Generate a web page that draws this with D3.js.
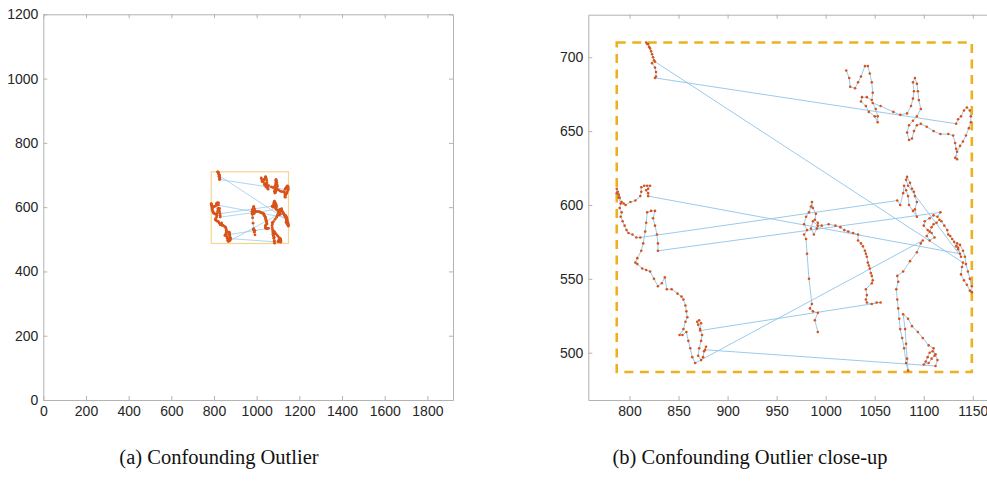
<!DOCTYPE html>
<html>
<head>
<meta charset="utf-8">
<script src="https://cdn.jsdelivr.net/npm/d3@7"></script>
<style>
  body { margin: 0; background: #fff; }
  .tick text { font-family: "Liberation Sans", Arial, sans-serif; font-size: 14px; fill: #262626; }
  .tick line { stroke: #b3b3b3; }
  .domain { stroke: #b3b3b3; }
  .caption { font-family: "Liberation Serif", "Times New Roman", serif; font-size: 20.5px; fill: #111; }
</style>
</head>
<body>
<script>
// tick labels
const xTicksA = [0, 200, 400, 600, 800, 1000, 1200, 1400, 1600, 1800];
const yTicksA = [0, 200, 400, 600, 800, 1000, 1200];
const xTicksB = [800, 850, 900, 950, 1000, 1050, 1100, 1150];
const yTicksB = [500, 550, 600, 650, 700];

// zoom window (data units)
const zoomBoxX = [787, 1149];
const zoomBoxY = [487, 710];

// trajectory pieces, in the order they were recorded
const trackF = [[992,514],[989,522],[992,527],[987,528],[984,530],[986,533],[983,550],[981,567],[980,577],[978,580],
  [981,583],[978,587],[980,592],[983,595],[985,599],[986,602],[987,598],[990,594],[989,590],[992,588],[991,584],
  [988,580],[985,584],[987,589],[992,586],[996,586],[1003,587],[1010,586],[1015,585],[1019,583],[1023,582],
  [1028,581],[1033,580],[1033,576],[1036,574],[1038,572],[1040,569],[1041,567],[1042,565],[1043,561],[1044,559],
  [1045,557],[1046,554],[1047,552],[1048,549],[1047,547],[1041,543],[1042,539],[1041,536],[1042,534],[1047,533],
  [1052,534],[1056,534]];
const trackBL1 = [[872,515],[870,519],[869,521],[871,522],[873,520],[872,516],[874,512],[873,508],[871,503],
  [870,498],[873,495],[875,497],[876,501],[878,504],[877,502]];
const trackBR = [[1112,491],[1114,495],[1112,499],[1109,501],[1106,500],[1104,497],[1102,494],[1100,492],
  [1105,493],[1108,496],[1111,498],[1110,503],[1105,505],[1099,510],[1094,514],[1088,518],[1084,523],[1079,526],
  [1081,516],[1082,506],[1083,496],[1084,488],[1082,493],[1080,503],[1078,510],[1076,516],[1075,523],[1074,530],
  [1073,536],[1072,543],[1074,548],[1073,552],[1079,555],[1086,562],[1093,568],[1097,574],[1099,576]];
const trackBL2 = [[867,493],[864,497],[862,503],[860,508],[858,514],[854,512],[851,512],[855,516],[857,521],
  [859,524],[858,528],[857,532],[855,536],[853,538],[849,540],[843,543],[838,543],[836,551],[833,547],[829,545],
  [825,550],[821,555],[817,556],[813,557],[808,560],[806,561],[808,564],[812,569],[814,574],[816,582],[817,588],
  [818,595],[822,596],[826,596],[824,591],[826,586],[828,580],[829,574],[829,569]];
const trackH = [[1117,595],[1114,592],[1110,593],[1106,591],[1101,589],[1100,586],[1104,583],[1108,581],
  [1111,578],[1106,576],[1103,579],[1106,582],[1108,585],[1110,587],[1113,588],[1116,590],[1118,589],[1121,586],
  [1124,583],[1125,580],[1127,579],[1129,577],[1131,575],[1133,572],[1135,570],[1138,565],[1084,613],[1082,617],
  [1083,619],[1086,615],[1088,611],[1090,609],[1091,606],[1093,602],[1091,597],[1093,592],[1089,596],[1085,600],
  [1084,606],[1082,610],[1080,613],[1079,608],[1076,600],[1073,603]];
const trackE = [[811,578],[807,578],[803,580],[799,581],[797,583],[795,586],[793,589],[791,592],[792,595],
  [790,598],[791,601],[789,605],[787,608],[787,611],[788,609],[789,607],[790,605],[792,602],[794,601],[796,600],
  [801,602],[806,603],[811,606],[812,609],[812,612],[815,613],[818,613],[821,613],[819,611],[817,610],[819,608],
  [819,606]];
const trackHR = [[1137,567],[1135,571],[1134,574],[1137,573],[1140,569],[1142,565],[1143,560],[1145,555],
  [1147,550],[1149,545],[1149,541],[1147,542],[1144,546],[1141,549],[1138,553],[1139,558],[1140,561]];
const trackA = [[826,697],[824,700],[822,704],[820,707],[818,709],[817,710],[819,709],[821,706],[823,702],
  [825,698],[823,696],[826,693],[827,690],[827,687],[826,686]];
const trackDCB = [[1133,655],[1135,658],[1138,660],[1141,664],[1144,666],[1147,664],[1148,660],[1148,656],
  [1146,652],[1143,647],[1140,643],[1137,640],[1134,636],[1132,632],[1134,631],[1133,638],[1132,642],[1130,647],
  [1125,648],[1117,648],[1110,650],[1103,653],[1097,655],[1093,654],[1090,650],[1088,645],[1085,644],[1083,649],
  [1085,654],[1089,657],[1093,660],[1097,665],[1095,671],[1094,677],[1093,682],[1091,686],[1089,683],[1090,677],
  [1089,672],[1087,667],[1083,662],[1076,661],[1069,663],[1056,667],[1048,669],[1051,665],[1053,660],[1053,656],
  [1050,660],[1044,663],[1041,667],[1036,670],[1037,673],[1042,673],[1047,671],[1048,676],[1047,683],[1045,689],
  [1043,694],[1040,694],[1036,687],[1033,683],[1030,679],[1025,680],[1024,686],[1021,691]];

const path = [].concat(trackF, trackBL1, trackBR, trackBL2, trackH, trackE, trackHR, trackA, trackDCB);

const W = 987, H = 483;
const svg = d3.select('body').append('svg').attr('width', W).attr('height', H);
const fmt = d3.format('d');

function drawPanel(id, x, y, xTicks, yTicks, clip, style) {
    const g = svg.append('g');
    const [x0, x1] = x.range();
    const [y0, y1] = y.range();

    svg.append('clipPath').attr('id', id)
        .append('rect').attr('x', clip[0]).attr('y', clip[1])
        .attr('width', clip[2] - clip[0]).attr('height', clip[3] - clip[1]);

    // axes, ticks pointing inwards on all sides (box)
    g.append('g').attr('transform', `translate(0,${y0})`)
        .call(d3.axisBottom(x).tickValues(xTicks).tickFormat(fmt).tickSizeInner(-4).tickSizeOuter(0).tickPadding(6));
    g.append('g').attr('transform', `translate(${x0},0)`)
        .call(d3.axisLeft(y).tickValues(yTicks).tickFormat(fmt).tickSizeInner(-4).tickSizeOuter(0).tickPadding(5));
    g.append('g').attr('transform', `translate(0,${y1})`)
        .call(d3.axisTop(x).tickValues(xTicks).tickSizeInner(-4).tickSizeOuter(0).tickFormat(''));
    if (style.rightAxis) {
        g.append('g').attr('transform', `translate(${x1},0)`)
            .call(d3.axisRight(y).tickValues(yTicks).tickSizeInner(-4).tickSizeOuter(0).tickFormat(''));
    }

    const plot = g.append('g').attr('clip-path', `url(#${id})`);

    // zoom window
    plot.append('rect')
        .attr('x', x(zoomBoxX[0])).attr('y', y(zoomBoxY[1]))
        .attr('width', x(zoomBoxX[1]) - x(zoomBoxX[0]))
        .attr('height', y(zoomBoxY[0]) - y(zoomBoxY[1]))
        .attr('fill', 'none')
        .attr('stroke', style.boxColor)
        .attr('stroke-width', style.boxWidth)
        .attr('stroke-dasharray', style.dash);

    const line = d3.line().x(d => x(d[0])).y(d => y(d[1]));
    plot.append('path').datum(path)
        .attr('d', line)
        .attr('fill', 'none')
        .attr('stroke', '#8ec4ea')
        .attr('stroke-width', style.lineWidth);

    plot.selectAll('circle.pt').data(path).enter().append('circle')
        .attr('class', 'pt')
        .attr('cx', d => x(d[0])).attr('cy', d => y(d[1]))
        .attr('r', style.r)
        .attr('fill', '#d95319');
}

// (a) full view
const xA = d3.scaleLinear().domain([0, 1920]).range([43.3, 453]);
const yA = d3.scaleLinear().domain([0, 1200]).range([400, 14.3]);
drawPanel('clipA', xA, yA, xTicksA, yTicksA, [43.3, 14.3, 453, 400],
    { rightAxis: true, boxColor: '#f7d393', boxWidth: 1.2, dash: null, lineWidth: 0.7, r: 1.4 });

// (b) close-up
const xB = d3.scaleLinear().domain([758, 1176]).range([588.3, 998.3]);
const yB = d3.scaleLinear().domain([468, 728.8]).range([400, 14.7]);
drawPanel('clipB', xB, yB, xTicksB, yTicksB, [588.3, 14.7, 987, 400],
    { rightAxis: false, boxColor: '#EDB120', boxWidth: 2.6, dash: '9,6.5', lineWidth: 0.9, r: 1.3 });

// captions
svg.append('text').attr('class', 'caption').attr('x', 219).attr('y', 464)
    .attr('text-anchor', 'middle').text('(a) Confounding Outlier');
svg.append('text').attr('class', 'caption').attr('x', 750).attr('y', 464)
    .attr('text-anchor', 'middle').text('(b) Confounding Outlier close-up');
</script>
</body>
</html>
